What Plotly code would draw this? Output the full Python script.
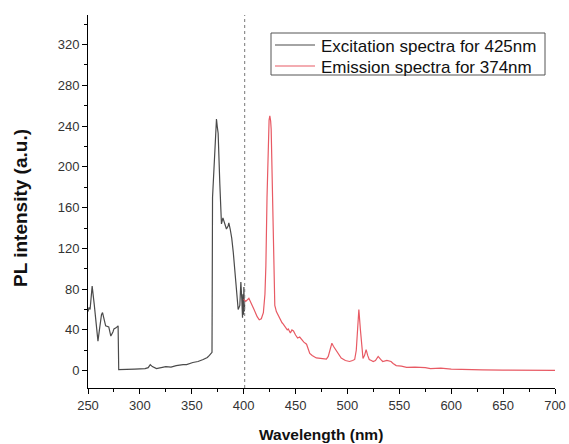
import plotly.graph_objects as go

exc_x = [250, 251, 252, 254, 256, 258, 259.6, 261, 263, 264,
         265.5, 267, 270, 272, 274, 275, 277, 279, 279.6, 285,
         295, 305, 308, 310, 312, 316, 320, 325, 330, 335,
         341.6, 345, 351, 356, 361, 365, 367, 369.5, 370, 371,
         372, 373, 373.8, 374.5, 375.4, 377, 378.6, 380, 381, 381.8,
         383.4, 385, 385.7, 387, 388.5, 390, 392.4, 394, 394.7, 396.3,
         397, 397.3, 398.2, 398.9, 399.3, 399.8, 400.2, 400.6, 401]
exc_y = [58, 62, 60, 83, 65, 40, 29, 40, 55, 57,
         50, 44, 43, 34, 38, 41, 42, 44, 1, 1,
         1.5, 2, 3, 6, 4, 2, 3, 4, 3.5, 5,
         6, 6, 8, 9, 11, 13, 15, 18, 170, 195,
         215, 240, 247, 240, 233, 184, 144, 150, 146, 144,
         139, 142, 145, 139, 130, 116, 90, 66, 60, 64,
         80, 87, 70, 52, 75, 55, 82, 58, 65]

em_x = [400, 402, 405, 407, 410, 413, 415, 417, 419, 420.5,
        421.4, 422.5, 423.6, 424.5, 425.2, 426, 426.5, 427.5, 428.5, 429.3,
        430, 431.5, 433, 435, 437, 438, 440, 442, 443, 445,
        446.5, 448, 450, 452, 454, 456, 458, 460.6, 462, 463.7,
        466, 470, 474, 477, 479.7, 481.5, 483, 485, 486.5, 487.8,
        489.5, 491, 494, 498, 502, 505, 507, 508.5, 509.6, 511,
        512.5, 514, 515, 516.5, 518, 519.5, 521, 523, 524.8, 527,
        529.6, 532, 534, 538, 542, 544, 547, 552, 557, 565,
        570, 575, 580, 590, 600, 614, 630, 650, 670, 690,
        700]
em_y = [70, 68, 71, 66, 60, 53, 50, 51, 57, 75,
        103, 170, 227, 246, 250, 245, 237, 190, 135, 90,
        64, 58, 55, 50, 47, 46, 43, 40, 41, 37,
        40, 39, 35, 32, 33, 30, 28, 26, 22, 17,
        15, 12.5, 12, 11.5, 11.4, 14, 19, 27, 24, 22,
        20, 17, 12.4, 10, 9, 10, 11, 20, 40, 60,
        40, 20, 12, 15, 20.6, 15, 11, 10, 9, 10,
        14, 11, 9, 10, 9, 7, 5, 4.5, 3.3, 3.5,
        3.3, 3, 2, 2.5, 1.5, 1, 0.8, 0.5, 0.3, 0.2,
        0.2]

x_ticks = [250, 300, 350, 400, 450, 500, 550, 600, 650, 700]
y_ticks = [0, 40, 80, 120, 160, 200, 240, 280, 320]
divider_x = 401
series_names = ["Excitation spectra for 425nm", "Emission spectra for 374nm"]
series_colors = ["#4a4a4a", "#e85a64"]

W, H = 569, 444
ml, mr, mt, mb = 88, 14, 15, 56
PW, PH = W - ml - mr, H - mt - mb


def px(xp):  # page pixel x -> paper
    return (xp - ml) / PW


def py(yp):  # page pixel y -> paper
    return 1 - (yp - mt) / PH


font_family = "Liberation Sans, Arial, sans-serif"

fig = go.Figure()
fig.add_trace(go.Scatter(x=exc_x, y=exc_y, mode="lines", name=series_names[0],
                         line=dict(color=series_colors[0], width=1.2)))
fig.add_trace(go.Scatter(x=em_x, y=em_y, mode="lines", name=series_names[1],
                         line=dict(color=series_colors[1], width=1.2)))

fig.add_shape(type="line", xref="x", yref="paper", x0=divider_x, x1=divider_x,
              y0=0, y1=1, line=dict(color="#777777", width=1, dash="dot"))

# legend box drawn by hand to match the compact original
fig.add_shape(type="rect", xref="paper", yref="paper",
              x0=px(271), x1=px(545), y0=py(75), y1=py(33),
              line=dict(color="#555555", width=1), fillcolor="white", layer="above")
for i, (nm, col) in enumerate(zip(series_names, series_colors)):
    yy = 45 + i * 21
    fig.add_shape(type="line", xref="paper", yref="paper",
                  x0=px(275), x1=px(315), y0=py(yy), y1=py(yy),
                  line=dict(color=col, width=1.2), layer="above")
    fig.add_annotation(text=nm, xref="paper", yref="paper", x=px(319), y=py(yy + 1),
                       xanchor="left", yanchor="middle", showarrow=False,
                       font=dict(size=17, color="#111111", family=font_family))

fig.add_annotation(text="<b>PL intensity (a.u.)</b>", xref="paper", yref="paper",
                   x=px(20), y=py(208), textangle=-90, showarrow=False,
                   xanchor="center", yanchor="middle",
                   font=dict(size=19, color="#111111", family=font_family))
fig.add_annotation(text="<b>Wavelength (nm)</b>", xref="paper", yref="paper",
                   x=px(321), y=py(434), showarrow=False,
                   xanchor="center", yanchor="middle",
                   font=dict(size=15.5, color="#111111", family=font_family))

fig.update_layout(
    width=W, height=H,
    margin=dict(l=ml, r=mr, t=mt, b=mb),
    paper_bgcolor="white", plot_bgcolor="white",
    font=dict(family=font_family, color="#333333", size=13),
    showlegend=False,
    xaxis=dict(range=[250, 700], tickvals=x_ticks, showline=True, linecolor="black",
               linewidth=1, ticks="outside", ticklen=5, tickcolor="black",
               showgrid=False, zeroline=False, automargin=False,
               minor=dict(dtick=25, ticks="outside", ticklen=3, tickcolor="black", showgrid=False)),
    yaxis=dict(range=[-17, 349], tickvals=y_ticks, showline=True, linecolor="black",
               linewidth=1, ticks="outside", ticklen=5, tickcolor="black",
               showgrid=False, zeroline=False, automargin=False,
               minor=dict(dtick=20, ticks="outside", ticklen=3, tickcolor="black", showgrid=False)),
)

fig.write_html("out.html", config={"displayModeBar": False},
               post_script="document.body.style.margin='0';document.body.style.overflow='hidden';")
